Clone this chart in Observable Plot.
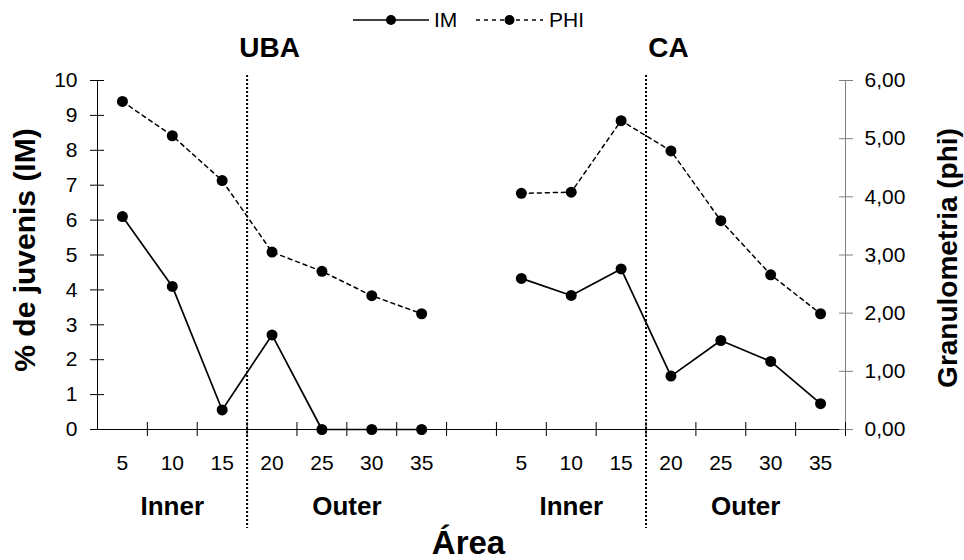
<!DOCTYPE html>
<html><head><meta charset="utf-8">
<script src="https://cdn.jsdelivr.net/npm/d3@7"></script>
<script src="https://cdn.jsdelivr.net/npm/@observablehq/plot@0.6"></script>
<style>
body{margin:0;background:#fff;font-family:"Liberation Sans",Arial,sans-serif;}
#wrap{position:relative;width:964px;height:560px;}
#legend{position:absolute;left:0;top:0;}
</style></head><body>
<div id="wrap"><div id="chart"></div><svg id="legend" width="964" height="40"></svg></div>
<script>
// ---- data ----
const sites = ["UBA", "CA"];
const distances = [5, 10, 15, 20, 25, 30, 35];
const zones = ["Inner", "Outer"];
const imUBA = [6.1, 4.1, 0.56, 2.71, 0, 0, 0];
const imCA = [4.33, 3.84, 4.6, 1.53, 2.55, 1.95, 0.74];
const phiUBA = [5.64, 5.05, 4.28, 3.05, 2.72, 2.30, 1.99];
const phiCA = [4.06, 4.08, 5.31, 4.79, 3.59, 2.66, 1.99];
const leftTicks = [0, 1, 2, 3, 4, 5, 6, 7, 8, 9, 10];
const rightTicks = [0, 1, 2, 3, 4, 5, 6];
const seriesNames = ["IM", "PHI"];

// ---- layout helpers ----
const leftMax = 10, rightMax = 6;
const phiToY = v => v * leftMax / rightMax;
const slotsPerSite = distances.length + 1; // one empty slot between sites
const innerCount = 3;

const rows = [];
sites.forEach((s, si) => distances.forEach((d, j) => rows.push({
  site: s, dist: d, pos: si * slotsPerSite + j + 0.5,
  im: (si ? imCA : imUBA)[j], phi: (si ? phiCA : phiUBA)[j]
})));
const zoneRows = [];
sites.forEach((s, si) => zones.forEach((z, zi) => {
  const a = si * slotsPerSite + (zi ? innerCount : 0);
  const b = si * slotsPerSite + (zi ? distances.length : innerCount);
  zoneRows.push({zone: z, pos: (a + b) / 2});
}));
const boundaries = d3.range(1, sites.length * slotsPerSite);
const fmt = v => v.toFixed(2).replace(".", ",");
const total = sites.length * slotsPerSite - 1;

const font = "Liberation Sans, Arial, sans-serif";
const chart = Plot.plot({
  width: 964, height: 560,
  marginLeft: 97, marginRight: 119, marginTop: 80, marginBottom: 131,
  style: {fontFamily: font, fontSize: "21px", color: "#000", background: "#fff", overflow: "visible"},
  x: {type: "linear", domain: [0, total]},
  y: {domain: [0, leftMax]},
  marks: [
    // axes
    Plot.ruleX([0], {stroke: "#000"}),
    Plot.ruleX([total], {stroke: "#808080"}),
    Plot.ruleY([0], {stroke: "#000"}),
    Plot.axisY({ticks: leftTicks, tickSize: 14, dx: 7, tickPadding: 13, tickFormat: d => String(d), fontSize: 21, label: null}),
    Plot.axisY({anchor: "right", ticks: rightTicks.map(phiToY), tickSize: 14, dx: -7, tickFormat: () => "", color: "#808080", label: null}),
    Plot.axisY({anchor: "right", ticks: rightTicks.map(phiToY), tickSize: 0, tickPadding: 19, tickFormat: d => fmt(d * rightMax / leftMax), fontSize: 21, label: null}),
    Plot.axisX({ticks: boundaries, tickSize: 14, dy: -7, tickFormat: () => "", label: null}),
    // section dividers
    Plot.ruleX(sites, {x: (d, i) => i * slotsPerSite + innerCount, insetTop: -5, insetBottom: -99, stroke: "#000", strokeWidth: 2, strokeDasharray: "2,2"}),
    // series
    Plot.line(rows, {x: "pos", y: d => phiToY(d.phi), z: "site", stroke: "#000", strokeWidth: 1.5, strokeDasharray: "4,4"}),
    Plot.line(rows, {x: "pos", y: "im", z: "site", stroke: "#000", strokeWidth: 1.7}),
    Plot.dot(rows, {x: "pos", y: d => phiToY(d.phi), r: 5.5, fill: "#000"}),
    Plot.dot(rows, {x: "pos", y: "im", r: 5.5, fill: "#000"}),
    // category labels
    Plot.text(rows, {x: "pos", text: d => String(d.dist), frameAnchor: "bottom", dy: 34, lineAnchor: "middle", fontSize: 21}),
    Plot.text(zoneRows, {x: "pos", text: "zone", frameAnchor: "bottom", dy: 77, lineAnchor: "middle", fontSize: 26, fontWeight: "bold"}),
    Plot.text(sites, {x: (d, i) => i * slotsPerSite + innerCount + 0.45, text: d => d, frameAnchor: "top", dy: -32, lineAnchor: "middle", fontSize: 28, fontWeight: "bold"}),
    // axis titles
    Plot.text(["Área"], {frameAnchor: "bottom", dy: 114, dx: -3, textAnchor: "middle", lineAnchor: "middle", fontSize: 33, fontWeight: "bold"}),
    Plot.text(["% de juvenis (IM)"], {frameAnchor: "left", dx: -72, dy: -5, rotate: -90, textAnchor: "middle", lineAnchor: "middle", fontSize: 30, fontWeight: "bold"}),
    Plot.text(["Granulometria (phi)"], {frameAnchor: "right", dx: 103, dy: 3, rotate: -90, textAnchor: "middle", lineAnchor: "middle", fontSize: 28, fontWeight: "bold"})
  ]
});
document.getElementById("chart").appendChild(chart);

// ---- legend ----
const lg = d3.select("#legend");
const entries = [
  {name: seriesNames[0], x0: 353, x1: 429, dash: null, tx: 434},
  {name: seriesNames[1], x0: 476, x1: 543, dash: "4,4", tx: 549}
];
entries.forEach(e => {
  lg.append("line").attr("x1", e.x0).attr("x2", e.x1).attr("y1", 20).attr("y2", 20)
    .attr("stroke", "#000").attr("stroke-width", 1.5).attr("stroke-dasharray", e.dash);
  lg.append("circle").attr("cx", (e.x0 + e.x1) / 2).attr("cy", 20).attr("r", 5).attr("fill", "#000");
  lg.append("text").attr("x", e.tx).attr("y", 20).attr("dy", "0.35em")
    .attr("font-family", font).attr("font-size", 21).text(e.name);
});
</script></body></html>
